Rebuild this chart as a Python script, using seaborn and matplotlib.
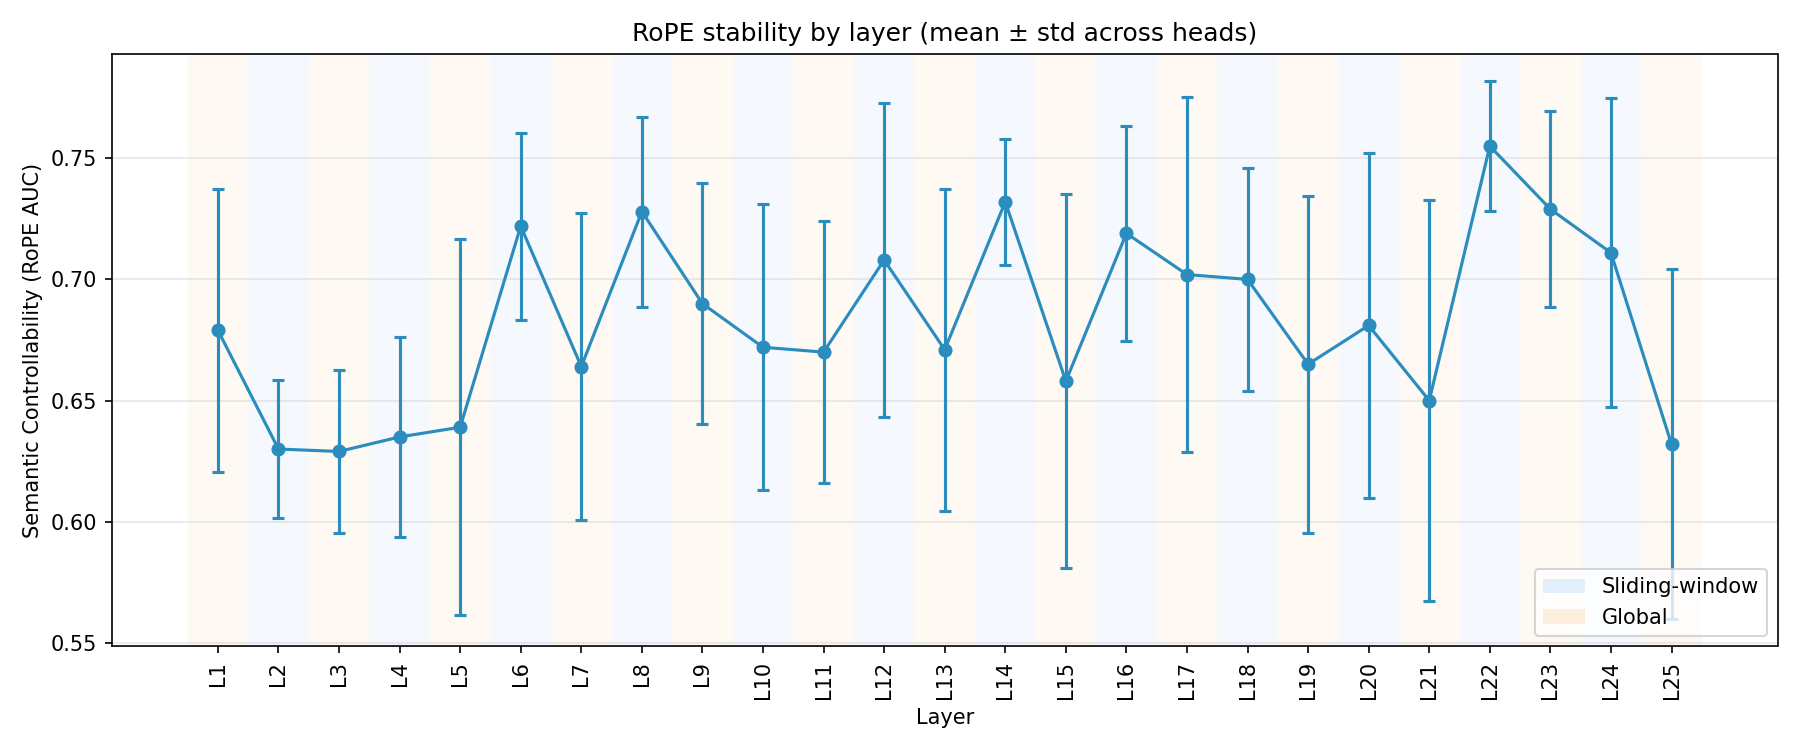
import matplotlib
matplotlib.use("Agg")
import matplotlib.pyplot as plt
import seaborn as sns
import numpy as np
from matplotlib.patches import Patch

# data
layers = [f"L{i}" for i in range(1, 26)]
mean_auc = [0.679, 0.630, 0.629, 0.635, 0.639, 0.722, 0.664, 0.728, 0.690, 0.672,
            0.670, 0.708, 0.671, 0.732, 0.658, 0.719, 0.702, 0.700, 0.665, 0.681,
            0.650, 0.755, 0.729, 0.711, 0.632]
std_auc = [0.0585, 0.0285, 0.0338, 0.0413, 0.0776, 0.0386, 0.0633, 0.0392, 0.0498, 0.0590,
           0.0539, 0.0646, 0.0665, 0.0261, 0.0771, 0.0444, 0.0733, 0.0459, 0.0696, 0.0710,
           0.0828, 0.0269, 0.0405, 0.0637, 0.0723]
attn_type = ["global" if i % 2 == 0 else "sliding" for i in range(25)]

LINE_COLOR = "#2b8cbe"
SLIDE_COLOR = "#cfe5fb"
GLOBAL_COLOR = "#fde4c6"

x = np.arange(len(layers))

fig, ax = plt.subplots(figsize=(12, 5), dpi=150)

# shaded background per layer type
for i, kind in enumerate(attn_type):
    c = SLIDE_COLOR if kind == "sliding" else GLOBAL_COLOR
    ax.axvspan(i - 0.5, i + 0.5, color=c, alpha=0.2, lw=0, zorder=0)

sns.lineplot(x=x, y=mean_auc, marker="o", markersize=6, color=LINE_COLOR,
             markeredgecolor=LINE_COLOR, linewidth=1.5, ax=ax, zorder=3)
ax.errorbar(x, mean_auc, yerr=std_auc, fmt="none", ecolor=LINE_COLOR,
            elinewidth=1.5, capsize=3, capthick=1.5, zorder=3)

ax.set_xticks(x)
ax.set_xticklabels(layers, rotation=90)
ax.set_xlabel("Layer")
ax.set_ylabel("Semantic Controllability (RoPE AUC)")
ax.set_title("RoPE stability by layer (mean ± std across heads)")
ax.grid(axis="y", alpha=0.3)
ax.set_axisbelow(True)

handles = [Patch(facecolor=SLIDE_COLOR, alpha=0.6, label="Sliding-window"),
           Patch(facecolor=GLOBAL_COLOR, alpha=0.6, label="Global")]
ax.legend(handles=handles, loc="lower right")

plt.tight_layout()
plt.savefig("out.png", dpi=150)
plt.close()
